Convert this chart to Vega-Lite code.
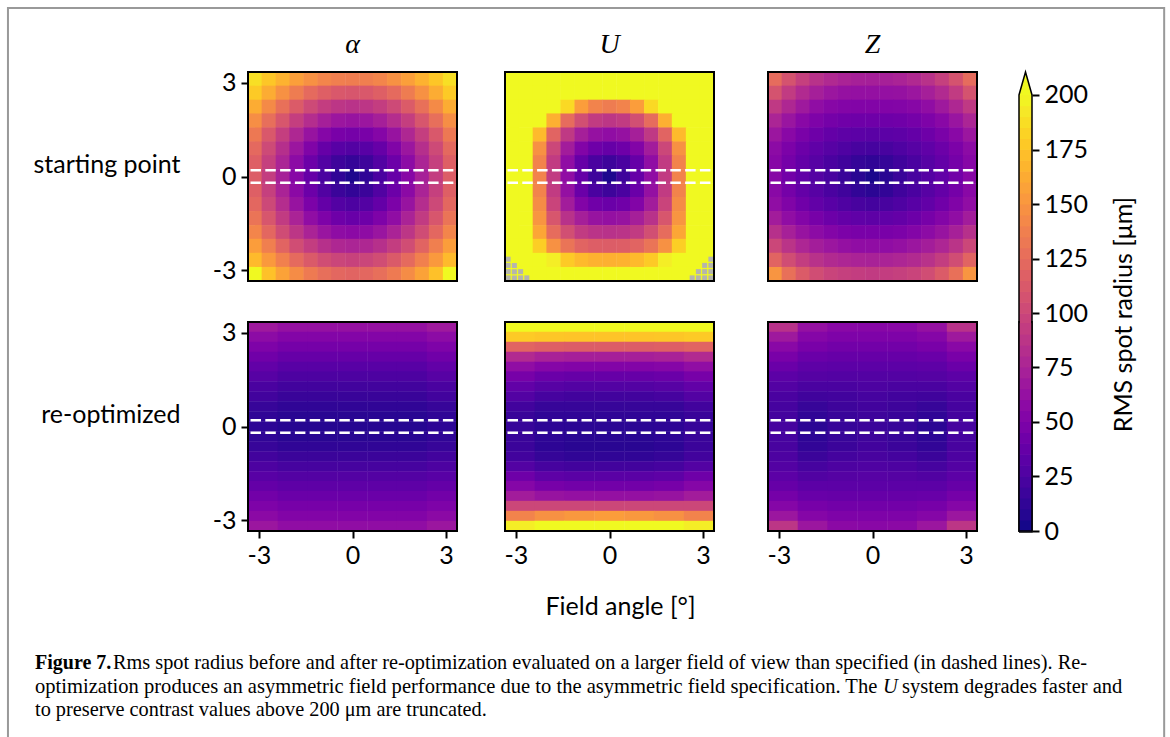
{"$schema":"https://vega.github.io/schema/vega-lite/v6.json","padding":{"left":6,"top":6,"right":0,"bottom":0},"background":"white",
"config":{"view":{"stroke":null},"axis":{"grid":false,"domain":false,"labelFont":"Lato","titleFont":"Lato","labelFontSize":25,"titleFontSize":25,"titleFontWeight":"normal","labelColor":"black","titleColor":"black","tickColor":"black","tickWidth":2,"tickSize":7,"labelPadding":5}},
"datasets":{"dash":[{"x":-3.27,"x2":3.27,"y":0.2},{"x":-3.27,"x2":3.27,"y":-0.2}],"box":[{"x":-3.35,"x2":3.35,"y":-3.35,"y2":3.35}],"sp":[{"t":""}],
"outline":[{"o":1,"x":0,"v":0},{"o":2,"x":0,"v":200},{"o":3,"x":0.5,"v":210.5},{"o":4,"x":1,"v":200},{"o":5,"x":1,"v":0},{"o":6,"x":0,"v":0}],
"n":[{"x":-3.25,"y":-3.25},{"x":-3.25,"y":-3.05},{"x":-3.25,"y":-2.85},{"x":-3.25,"y":-2.65},{"x":-3.05,"y":-3.25},{"x":-3.05,"y":-3.05},{"x":-3.05,"y":-2.85},{"x":-2.85,"y":-3.25},{"x":-2.85,"y":-3.05},{"x":-2.65,"y":-3.25},{"x":3.25,"y":-3.25},{"x":3.25,"y":-3.05},{"x":3.25,"y":-2.85},{"x":3.25,"y":-2.65},{"x":3.05,"y":-3.25},{"x":3.05,"y":-3.05},{"x":3.05,"y":-2.85},{"x":2.85,"y":-3.25},{"x":2.85,"y":-3.05},{"x":2.65,"y":-3.25}],
"a1":[
{"x":-3.13,"y":3.13,"v":188},{"x":-2.68,"y":3.13,"v":176},{"x":-2.23,"y":3.13,"v":166},{"x":-1.79,"y":3.13,"v":156},{"x":-1.34,"y":3.13,"v":148},{"x":-0.89,"y":3.13,"v":141},{"x":-0.45,"y":3.13,"v":137},{"x":0,"y":3.13,"v":136},{"x":0.45,"y":3.13,"v":137},{"x":0.89,"y":3.13,"v":141},{"x":1.34,"y":3.13,"v":148},{"x":1.79,"y":3.13,"v":156},{"x":2.23,"y":3.13,"v":166},{"x":2.68,"y":3.13,"v":176},{"x":3.13,"y":3.13,"v":188},
{"x":-3.13,"y":2.68,"v":178},{"x":-2.68,"y":2.68,"v":163},{"x":-2.23,"y":2.68,"v":148},{"x":-1.79,"y":2.68,"v":135},{"x":-1.34,"y":2.68,"v":124},{"x":-0.89,"y":2.68,"v":117},{"x":-0.45,"y":2.68,"v":112},{"x":0,"y":2.68,"v":110},{"x":0.45,"y":2.68,"v":112},{"x":0.89,"y":2.68,"v":117},{"x":1.34,"y":2.68,"v":124},{"x":1.79,"y":2.68,"v":135},{"x":2.23,"y":2.68,"v":148},{"x":2.68,"y":2.68,"v":163},{"x":3.13,"y":2.68,"v":178},
{"x":-3.13,"y":2.23,"v":163},{"x":-2.68,"y":2.23,"v":144},{"x":-2.23,"y":2.23,"v":128},{"x":-1.79,"y":2.23,"v":114},{"x":-1.34,"y":2.23,"v":102},{"x":-0.89,"y":2.23,"v":93},{"x":-0.45,"y":2.23,"v":88},{"x":0,"y":2.23,"v":86},{"x":0.45,"y":2.23,"v":88},{"x":0.89,"y":2.23,"v":93},{"x":1.34,"y":2.23,"v":102},{"x":1.79,"y":2.23,"v":114},{"x":2.23,"y":2.23,"v":128},{"x":2.68,"y":2.23,"v":144},{"x":3.13,"y":2.23,"v":163},
{"x":-3.13,"y":1.79,"v":146},{"x":-2.68,"y":1.79,"v":127},{"x":-2.23,"y":1.79,"v":110},{"x":-1.79,"y":1.79,"v":94},{"x":-1.34,"y":1.79,"v":82},{"x":-0.89,"y":1.79,"v":72},{"x":-0.45,"y":1.79,"v":66},{"x":0,"y":1.79,"v":64},{"x":0.45,"y":1.79,"v":66},{"x":0.89,"y":1.79,"v":72},{"x":1.34,"y":1.79,"v":82},{"x":1.79,"y":1.79,"v":94},{"x":2.23,"y":1.79,"v":110},{"x":2.68,"y":1.79,"v":127},{"x":3.13,"y":1.79,"v":146},
{"x":-3.13,"y":1.34,"v":133},{"x":-2.68,"y":1.34,"v":112},{"x":-2.23,"y":1.34,"v":94},{"x":-1.79,"y":1.34,"v":78},{"x":-1.34,"y":1.34,"v":64},{"x":-0.89,"y":1.34,"v":54},{"x":-0.45,"y":1.34,"v":47},{"x":0,"y":1.34,"v":45},{"x":0.45,"y":1.34,"v":47},{"x":0.89,"y":1.34,"v":54},{"x":1.34,"y":1.34,"v":64},{"x":1.79,"y":1.34,"v":78},{"x":2.23,"y":1.34,"v":94},{"x":2.68,"y":1.34,"v":112},{"x":3.13,"y":1.34,"v":133},
{"x":-3.13,"y":0.89,"v":123},{"x":-2.68,"y":0.89,"v":102},{"x":-2.23,"y":0.89,"v":83},{"x":-1.79,"y":0.89,"v":66},{"x":-1.34,"y":0.89,"v":51},{"x":-0.89,"y":0.89,"v":38},{"x":-0.45,"y":0.89,"v":31},{"x":0,"y":0.89,"v":28},{"x":0.45,"y":0.89,"v":31},{"x":0.89,"y":0.89,"v":38},{"x":1.34,"y":0.89,"v":51},{"x":1.79,"y":0.89,"v":66},{"x":2.23,"y":0.89,"v":83},{"x":2.68,"y":0.89,"v":102},{"x":3.13,"y":0.89,"v":123},
{"x":-3.13,"y":0.45,"v":117},{"x":-2.68,"y":0.45,"v":95},{"x":-2.23,"y":0.45,"v":76},{"x":-1.79,"y":0.45,"v":58},{"x":-1.34,"y":0.45,"v":41},{"x":-0.89,"y":0.45,"v":28},{"x":-0.45,"y":0.45,"v":18},{"x":0,"y":0.45,"v":14},{"x":0.45,"y":0.45,"v":18},{"x":0.89,"y":0.45,"v":28},{"x":1.34,"y":0.45,"v":41},{"x":1.79,"y":0.45,"v":58},{"x":2.23,"y":0.45,"v":76},{"x":2.68,"y":0.45,"v":95},{"x":3.13,"y":0.45,"v":117},
{"x":-3.13,"y":0,"v":115},{"x":-2.68,"y":0,"v":93},{"x":-2.23,"y":0,"v":73},{"x":-1.79,"y":0,"v":55},{"x":-1.34,"y":0,"v":38},{"x":-0.89,"y":0,"v":24},{"x":-0.45,"y":0,"v":12},{"x":0,"y":0,"v":5},{"x":0.45,"y":0,"v":12},{"x":0.89,"y":0,"v":24},{"x":1.34,"y":0,"v":38},{"x":1.79,"y":0,"v":55},{"x":2.23,"y":0,"v":73},{"x":2.68,"y":0,"v":93},{"x":3.13,"y":0,"v":115},
{"x":-3.13,"y":-0.45,"v":117},{"x":-2.68,"y":-0.45,"v":95},{"x":-2.23,"y":-0.45,"v":75},{"x":-1.79,"y":-0.45,"v":57},{"x":-1.34,"y":-0.45,"v":41},{"x":-0.89,"y":-0.45,"v":27},{"x":-0.45,"y":-0.45,"v":17},{"x":0,"y":-0.45,"v":13},{"x":0.45,"y":-0.45,"v":17},{"x":0.89,"y":-0.45,"v":27},{"x":1.34,"y":-0.45,"v":41},{"x":1.79,"y":-0.45,"v":57},{"x":2.23,"y":-0.45,"v":75},{"x":2.68,"y":-0.45,"v":95},{"x":3.13,"y":-0.45,"v":117},
{"x":-3.13,"y":-0.89,"v":122},{"x":-2.68,"y":-0.89,"v":101},{"x":-2.23,"y":-0.89,"v":82},{"x":-1.79,"y":-0.89,"v":64},{"x":-1.34,"y":-0.89,"v":49},{"x":-0.89,"y":-0.89,"v":37},{"x":-0.45,"y":-0.89,"v":28},{"x":0,"y":-0.89,"v":25},{"x":0.45,"y":-0.89,"v":28},{"x":0.89,"y":-0.89,"v":37},{"x":1.34,"y":-0.89,"v":49},{"x":1.79,"y":-0.89,"v":64},{"x":2.23,"y":-0.89,"v":82},{"x":2.68,"y":-0.89,"v":101},{"x":3.13,"y":-0.89,"v":122},
{"x":-3.13,"y":-1.34,"v":130},{"x":-2.68,"y":-1.34,"v":110},{"x":-2.23,"y":-1.34,"v":92},{"x":-1.79,"y":-1.34,"v":75},{"x":-1.34,"y":-1.34,"v":60},{"x":-0.89,"y":-1.34,"v":50},{"x":-0.45,"y":-1.34,"v":42},{"x":0,"y":-1.34,"v":39},{"x":0.45,"y":-1.34,"v":42},{"x":0.89,"y":-1.34,"v":50},{"x":1.34,"y":-1.34,"v":60},{"x":1.79,"y":-1.34,"v":75},{"x":2.23,"y":-1.34,"v":92},{"x":2.68,"y":-1.34,"v":110},{"x":3.13,"y":-1.34,"v":130},
{"x":-3.13,"y":-1.79,"v":141},{"x":-2.68,"y":-1.79,"v":122},{"x":-2.23,"y":-1.79,"v":103},{"x":-1.79,"y":-1.79,"v":88},{"x":-1.34,"y":-1.79,"v":75},{"x":-0.89,"y":-1.79,"v":65},{"x":-0.45,"y":-1.79,"v":59},{"x":0,"y":-1.79,"v":57},{"x":0.45,"y":-1.79,"v":59},{"x":0.89,"y":-1.79,"v":65},{"x":1.34,"y":-1.79,"v":75},{"x":1.79,"y":-1.79,"v":88},{"x":2.23,"y":-1.79,"v":103},{"x":2.68,"y":-1.79,"v":122},{"x":3.13,"y":-1.79,"v":141},
{"x":-3.13,"y":-2.23,"v":155},{"x":-2.68,"y":-2.23,"v":137},{"x":-2.23,"y":-2.23,"v":120},{"x":-1.79,"y":-2.23,"v":104},{"x":-1.34,"y":-2.23,"v":93},{"x":-0.89,"y":-2.23,"v":84},{"x":-0.45,"y":-2.23,"v":78},{"x":0,"y":-2.23,"v":76},{"x":0.45,"y":-2.23,"v":78},{"x":0.89,"y":-2.23,"v":84},{"x":1.34,"y":-2.23,"v":93},{"x":1.79,"y":-2.23,"v":104},{"x":2.23,"y":-2.23,"v":120},{"x":2.68,"y":-2.23,"v":137},{"x":3.13,"y":-2.23,"v":155},
{"x":-3.13,"y":-2.68,"v":170},{"x":-2.68,"y":-2.68,"v":153},{"x":-2.23,"y":-2.68,"v":138},{"x":-1.79,"y":-2.68,"v":124},{"x":-1.34,"y":-2.68,"v":113},{"x":-0.89,"y":-2.68,"v":104},{"x":-0.45,"y":-2.68,"v":99},{"x":0,"y":-2.68,"v":97},{"x":0.45,"y":-2.68,"v":99},{"x":0.89,"y":-2.68,"v":104},{"x":1.34,"y":-2.68,"v":113},{"x":1.79,"y":-2.68,"v":124},{"x":2.23,"y":-2.68,"v":138},{"x":2.68,"y":-2.68,"v":153},{"x":3.13,"y":-2.68,"v":170},
{"x":-3.13,"y":-3.13,"v":200},{"x":-2.68,"y":-3.13,"v":174},{"x":-2.23,"y":-3.13,"v":158},{"x":-1.79,"y":-3.13,"v":145},{"x":-1.34,"y":-3.13,"v":134},{"x":-0.89,"y":-3.13,"v":127},{"x":-0.45,"y":-3.13,"v":122},{"x":0,"y":-3.13,"v":120},{"x":0.45,"y":-3.13,"v":122},{"x":0.89,"y":-3.13,"v":127},{"x":1.34,"y":-3.13,"v":134},{"x":1.79,"y":-3.13,"v":145},{"x":2.23,"y":-3.13,"v":158},{"x":2.68,"y":-3.13,"v":174},{"x":3.13,"y":-3.13,"v":200}],
"z1":[
{"x":-3.13,"y":3.13,"v":125},{"x":-2.68,"y":3.13,"v":108},{"x":-2.23,"y":3.13,"v":95},{"x":-1.79,"y":3.13,"v":85},{"x":-1.34,"y":3.13,"v":79},{"x":-0.89,"y":3.13,"v":75},{"x":-0.45,"y":3.13,"v":73},{"x":0,"y":3.13,"v":72},{"x":0.45,"y":3.13,"v":73},{"x":0.89,"y":3.13,"v":75},{"x":1.34,"y":3.13,"v":79},{"x":1.79,"y":3.13,"v":85},{"x":2.23,"y":3.13,"v":95},{"x":2.68,"y":3.13,"v":108},{"x":3.13,"y":3.13,"v":125},
{"x":-3.13,"y":2.68,"v":108},{"x":-2.68,"y":2.68,"v":92},{"x":-2.23,"y":2.68,"v":80},{"x":-1.79,"y":2.68,"v":72},{"x":-1.34,"y":2.68,"v":66},{"x":-0.89,"y":2.68,"v":63},{"x":-0.45,"y":2.68,"v":62},{"x":0,"y":2.68,"v":62},{"x":0.45,"y":2.68,"v":62},{"x":0.89,"y":2.68,"v":63},{"x":1.34,"y":2.68,"v":66},{"x":1.79,"y":2.68,"v":72},{"x":2.23,"y":2.68,"v":80},{"x":2.68,"y":2.68,"v":92},{"x":3.13,"y":2.68,"v":108},
{"x":-3.13,"y":2.23,"v":90},{"x":-2.68,"y":2.23,"v":78},{"x":-2.23,"y":2.23,"v":68},{"x":-1.79,"y":2.23,"v":60},{"x":-1.34,"y":2.23,"v":55},{"x":-0.89,"y":2.23,"v":53},{"x":-0.45,"y":2.23,"v":52},{"x":0,"y":2.23,"v":52},{"x":0.45,"y":2.23,"v":52},{"x":0.89,"y":2.23,"v":53},{"x":1.34,"y":2.23,"v":55},{"x":1.79,"y":2.23,"v":60},{"x":2.23,"y":2.23,"v":68},{"x":2.68,"y":2.23,"v":78},{"x":3.13,"y":2.23,"v":90},
{"x":-3.13,"y":1.79,"v":76},{"x":-2.68,"y":1.79,"v":65},{"x":-2.23,"y":1.79,"v":56},{"x":-1.79,"y":1.79,"v":50},{"x":-1.34,"y":1.79,"v":45},{"x":-0.89,"y":1.79,"v":43},{"x":-0.45,"y":1.79,"v":42},{"x":0,"y":1.79,"v":42},{"x":0.45,"y":1.79,"v":42},{"x":0.89,"y":1.79,"v":43},{"x":1.34,"y":1.79,"v":45},{"x":1.79,"y":1.79,"v":50},{"x":2.23,"y":1.79,"v":56},{"x":2.68,"y":1.79,"v":65},{"x":3.13,"y":1.79,"v":76},
{"x":-3.13,"y":1.34,"v":66},{"x":-2.68,"y":1.34,"v":56},{"x":-2.23,"y":1.34,"v":48},{"x":-1.79,"y":1.34,"v":42},{"x":-1.34,"y":1.34,"v":37},{"x":-0.89,"y":1.34,"v":34},{"x":-0.45,"y":1.34,"v":33},{"x":0,"y":1.34,"v":32},{"x":0.45,"y":1.34,"v":33},{"x":0.89,"y":1.34,"v":34},{"x":1.34,"y":1.34,"v":37},{"x":1.79,"y":1.34,"v":42},{"x":2.23,"y":1.34,"v":48},{"x":2.68,"y":1.34,"v":56},{"x":3.13,"y":1.34,"v":66},
{"x":-3.13,"y":0.89,"v":58},{"x":-2.68,"y":0.89,"v":49},{"x":-2.23,"y":0.89,"v":41},{"x":-1.79,"y":0.89,"v":35},{"x":-1.34,"y":0.89,"v":30},{"x":-0.89,"y":0.89,"v":26},{"x":-0.45,"y":0.89,"v":23},{"x":0,"y":0.89,"v":22},{"x":0.45,"y":0.89,"v":23},{"x":0.89,"y":0.89,"v":26},{"x":1.34,"y":0.89,"v":30},{"x":1.79,"y":0.89,"v":35},{"x":2.23,"y":0.89,"v":41},{"x":2.68,"y":0.89,"v":49},{"x":3.13,"y":0.89,"v":58},
{"x":-3.13,"y":0.45,"v":55},{"x":-2.68,"y":0.45,"v":45},{"x":-2.23,"y":0.45,"v":37},{"x":-1.79,"y":0.45,"v":30},{"x":-1.34,"y":0.45,"v":24},{"x":-0.89,"y":0.45,"v":19},{"x":-0.45,"y":0.45,"v":14},{"x":0,"y":0.45,"v":12},{"x":0.45,"y":0.45,"v":14},{"x":0.89,"y":0.45,"v":19},{"x":1.34,"y":0.45,"v":24},{"x":1.79,"y":0.45,"v":30},{"x":2.23,"y":0.45,"v":37},{"x":2.68,"y":0.45,"v":45},{"x":3.13,"y":0.45,"v":55},
{"x":-3.13,"y":0,"v":55},{"x":-2.68,"y":0,"v":44},{"x":-2.23,"y":0,"v":36},{"x":-1.79,"y":0,"v":29},{"x":-1.34,"y":0,"v":23},{"x":-0.89,"y":0,"v":16},{"x":-0.45,"y":0,"v":9},{"x":0,"y":0,"v":4},{"x":0.45,"y":0,"v":9},{"x":0.89,"y":0,"v":16},{"x":1.34,"y":0,"v":23},{"x":1.79,"y":0,"v":29},{"x":2.23,"y":0,"v":36},{"x":2.68,"y":0,"v":44},{"x":3.13,"y":0,"v":55},
{"x":-3.13,"y":-0.45,"v":56},{"x":-2.68,"y":-0.45,"v":45},{"x":-2.23,"y":-0.45,"v":37},{"x":-1.79,"y":-0.45,"v":30},{"x":-1.34,"y":-0.45,"v":24},{"x":-0.89,"y":-0.45,"v":19},{"x":-0.45,"y":-0.45,"v":13},{"x":0,"y":-0.45,"v":10},{"x":0.45,"y":-0.45,"v":13},{"x":0.89,"y":-0.45,"v":19},{"x":1.34,"y":-0.45,"v":24},{"x":1.79,"y":-0.45,"v":30},{"x":2.23,"y":-0.45,"v":37},{"x":2.68,"y":-0.45,"v":45},{"x":3.13,"y":-0.45,"v":56},
{"x":-3.13,"y":-0.89,"v":60},{"x":-2.68,"y":-0.89,"v":51},{"x":-2.23,"y":-0.89,"v":43},{"x":-1.79,"y":-0.89,"v":36},{"x":-1.34,"y":-0.89,"v":31},{"x":-0.89,"y":-0.89,"v":26},{"x":-0.45,"y":-0.89,"v":23},{"x":0,"y":-0.89,"v":21},{"x":0.45,"y":-0.89,"v":23},{"x":0.89,"y":-0.89,"v":26},{"x":1.34,"y":-0.89,"v":31},{"x":1.79,"y":-0.89,"v":36},{"x":2.23,"y":-0.89,"v":43},{"x":2.68,"y":-0.89,"v":51},{"x":3.13,"y":-0.89,"v":60},
{"x":-3.13,"y":-1.34,"v":70},{"x":-2.68,"y":-1.34,"v":60},{"x":-2.23,"y":-1.34,"v":53},{"x":-1.79,"y":-1.34,"v":46},{"x":-1.34,"y":-1.34,"v":41},{"x":-0.89,"y":-1.34,"v":37},{"x":-0.45,"y":-1.34,"v":35},{"x":0,"y":-1.34,"v":34},{"x":0.45,"y":-1.34,"v":35},{"x":0.89,"y":-1.34,"v":37},{"x":1.34,"y":-1.34,"v":41},{"x":1.79,"y":-1.34,"v":46},{"x":2.23,"y":-1.34,"v":53},{"x":2.68,"y":-1.34,"v":60},{"x":3.13,"y":-1.34,"v":70},
{"x":-3.13,"y":-1.79,"v":84},{"x":-2.68,"y":-1.79,"v":73},{"x":-2.23,"y":-1.79,"v":64},{"x":-1.79,"y":-1.79,"v":58},{"x":-1.34,"y":-1.79,"v":53},{"x":-0.89,"y":-1.79,"v":49},{"x":-0.45,"y":-1.79,"v":47},{"x":0,"y":-1.79,"v":47},{"x":0.45,"y":-1.79,"v":47},{"x":0.89,"y":-1.79,"v":49},{"x":1.34,"y":-1.79,"v":53},{"x":1.79,"y":-1.79,"v":58},{"x":2.23,"y":-1.79,"v":64},{"x":2.68,"y":-1.79,"v":73},{"x":3.13,"y":-1.79,"v":84},
{"x":-3.13,"y":-2.23,"v":100},{"x":-2.68,"y":-2.23,"v":87},{"x":-2.23,"y":-2.23,"v":77},{"x":-1.79,"y":-2.23,"v":71},{"x":-1.34,"y":-2.23,"v":66},{"x":-0.89,"y":-2.23,"v":62},{"x":-0.45,"y":-2.23,"v":60},{"x":0,"y":-2.23,"v":60},{"x":0.45,"y":-2.23,"v":60},{"x":0.89,"y":-2.23,"v":62},{"x":1.34,"y":-2.23,"v":66},{"x":1.79,"y":-2.23,"v":71},{"x":2.23,"y":-2.23,"v":77},{"x":2.68,"y":-2.23,"v":87},{"x":3.13,"y":-2.23,"v":100},
{"x":-3.13,"y":-2.68,"v":120},{"x":-2.68,"y":-2.68,"v":104},{"x":-2.23,"y":-2.68,"v":93},{"x":-1.79,"y":-2.68,"v":85},{"x":-1.34,"y":-2.68,"v":80},{"x":-0.89,"y":-2.68,"v":77},{"x":-0.45,"y":-2.68,"v":75},{"x":0,"y":-2.68,"v":74},{"x":0.45,"y":-2.68,"v":75},{"x":0.89,"y":-2.68,"v":77},{"x":1.34,"y":-2.68,"v":80},{"x":1.79,"y":-2.68,"v":85},{"x":2.23,"y":-2.68,"v":93},{"x":2.68,"y":-2.68,"v":104},{"x":3.13,"y":-2.68,"v":120},
{"x":-3.13,"y":-3.13,"v":150},{"x":-2.68,"y":-3.13,"v":128},{"x":-2.23,"y":-3.13,"v":114},{"x":-1.79,"y":-3.13,"v":104},{"x":-1.34,"y":-3.13,"v":98},{"x":-0.89,"y":-3.13,"v":95},{"x":-0.45,"y":-3.13,"v":93},{"x":0,"y":-3.13,"v":92},{"x":0.45,"y":-3.13,"v":93},{"x":0.89,"y":-3.13,"v":95},{"x":1.34,"y":-3.13,"v":98},{"x":1.79,"y":-3.13,"v":104},{"x":2.23,"y":-3.13,"v":114},{"x":2.68,"y":-3.13,"v":128},{"x":3.13,"y":-3.13,"v":150}],
"u1":[
{"x":-3.13,"y":3.13,"v":250},{"x":-2.68,"y":3.13,"v":250},{"x":-2.23,"y":3.13,"v":250},{"x":-1.79,"y":3.13,"v":250},{"x":-1.34,"y":3.13,"v":250},{"x":-0.89,"y":3.13,"v":250},{"x":-0.45,"y":3.13,"v":250},{"x":0,"y":3.13,"v":250},{"x":0.45,"y":3.13,"v":250},{"x":0.89,"y":3.13,"v":250},{"x":1.34,"y":3.13,"v":250},{"x":1.79,"y":3.13,"v":250},{"x":2.23,"y":3.13,"v":250},{"x":2.68,"y":3.13,"v":250},{"x":3.13,"y":3.13,"v":250},
{"x":-3.13,"y":2.68,"v":250},{"x":-2.68,"y":2.68,"v":250},{"x":-2.23,"y":2.68,"v":250},{"x":-1.79,"y":2.68,"v":250},{"x":-1.34,"y":2.68,"v":230},{"x":-0.89,"y":2.68,"v":215},{"x":-0.45,"y":2.68,"v":208},{"x":0,"y":2.68,"v":205},{"x":0.45,"y":2.68,"v":208},{"x":0.89,"y":2.68,"v":215},{"x":1.34,"y":2.68,"v":230},{"x":1.79,"y":2.68,"v":250},{"x":2.23,"y":2.68,"v":250},{"x":2.68,"y":2.68,"v":250},{"x":3.13,"y":2.68,"v":250},
{"x":-3.13,"y":2.23,"v":250},{"x":-2.68,"y":2.23,"v":250},{"x":-2.23,"y":2.23,"v":250},{"x":-1.79,"y":2.23,"v":230},{"x":-1.34,"y":2.23,"v":185},{"x":-0.89,"y":2.23,"v":155},{"x":-0.45,"y":2.23,"v":140},{"x":0,"y":2.23,"v":135},{"x":0.45,"y":2.23,"v":140},{"x":0.89,"y":2.23,"v":155},{"x":1.34,"y":2.23,"v":185},{"x":1.79,"y":2.23,"v":230},{"x":2.23,"y":2.23,"v":250},{"x":2.68,"y":2.23,"v":250},{"x":3.13,"y":2.23,"v":250},
{"x":-3.13,"y":1.79,"v":250},{"x":-2.68,"y":1.79,"v":250},{"x":-2.23,"y":1.79,"v":225},{"x":-1.79,"y":1.79,"v":165},{"x":-1.34,"y":1.79,"v":125},{"x":-0.89,"y":1.79,"v":105},{"x":-0.45,"y":1.79,"v":92},{"x":0,"y":1.79,"v":88},{"x":0.45,"y":1.79,"v":92},{"x":0.89,"y":1.79,"v":105},{"x":1.34,"y":1.79,"v":125},{"x":1.79,"y":1.79,"v":165},{"x":2.23,"y":1.79,"v":225},{"x":2.68,"y":1.79,"v":250},{"x":3.13,"y":1.79,"v":250},
{"x":-3.13,"y":1.34,"v":250},{"x":-2.68,"y":1.34,"v":240},{"x":-2.23,"y":1.34,"v":170},{"x":-1.79,"y":1.34,"v":120},{"x":-1.34,"y":1.34,"v":90},{"x":-0.89,"y":1.34,"v":72},{"x":-0.45,"y":1.34,"v":63},{"x":0,"y":1.34,"v":60},{"x":0.45,"y":1.34,"v":63},{"x":0.89,"y":1.34,"v":72},{"x":1.34,"y":1.34,"v":90},{"x":1.79,"y":1.34,"v":120},{"x":2.23,"y":1.34,"v":170},{"x":2.68,"y":1.34,"v":240},{"x":3.13,"y":1.34,"v":250},
{"x":-3.13,"y":0.89,"v":250},{"x":-2.68,"y":0.89,"v":215},{"x":-2.23,"y":0.89,"v":148},{"x":-1.79,"y":0.89,"v":100},{"x":-1.34,"y":0.89,"v":70},{"x":-0.89,"y":0.89,"v":52},{"x":-0.45,"y":0.89,"v":42},{"x":0,"y":0.89,"v":38},{"x":0.45,"y":0.89,"v":42},{"x":0.89,"y":0.89,"v":52},{"x":1.34,"y":0.89,"v":70},{"x":1.79,"y":0.89,"v":100},{"x":2.23,"y":0.89,"v":148},{"x":2.68,"y":0.89,"v":215},{"x":3.13,"y":0.89,"v":250},
{"x":-3.13,"y":0.45,"v":250},{"x":-2.68,"y":0.45,"v":208},{"x":-2.23,"y":0.45,"v":140},{"x":-1.79,"y":0.45,"v":92},{"x":-1.34,"y":0.45,"v":60},{"x":-0.89,"y":0.45,"v":38},{"x":-0.45,"y":0.45,"v":24},{"x":0,"y":0.45,"v":18},{"x":0.45,"y":0.45,"v":24},{"x":0.89,"y":0.45,"v":38},{"x":1.34,"y":0.45,"v":60},{"x":1.79,"y":0.45,"v":92},{"x":2.23,"y":0.45,"v":140},{"x":2.68,"y":0.45,"v":208},{"x":3.13,"y":0.45,"v":250},
{"x":-3.13,"y":0,"v":250},{"x":-2.68,"y":0,"v":205},{"x":-2.23,"y":0,"v":140},{"x":-1.79,"y":0,"v":92},{"x":-1.34,"y":0,"v":60},{"x":-0.89,"y":0,"v":38},{"x":-0.45,"y":0,"v":18},{"x":0,"y":0,"v":5},{"x":0.45,"y":0,"v":18},{"x":0.89,"y":0,"v":38},{"x":1.34,"y":0,"v":60},{"x":1.79,"y":0,"v":92},{"x":2.23,"y":0,"v":140},{"x":2.68,"y":0,"v":205},{"x":3.13,"y":0,"v":250},
{"x":-3.13,"y":-0.45,"v":250},{"x":-2.68,"y":-0.45,"v":205},{"x":-2.23,"y":-0.45,"v":140},{"x":-1.79,"y":-0.45,"v":92},{"x":-1.34,"y":-0.45,"v":62},{"x":-0.89,"y":-0.45,"v":40},{"x":-0.45,"y":-0.45,"v":24},{"x":0,"y":-0.45,"v":18},{"x":0.45,"y":-0.45,"v":24},{"x":0.89,"y":-0.45,"v":40},{"x":1.34,"y":-0.45,"v":62},{"x":1.79,"y":-0.45,"v":92},{"x":2.23,"y":-0.45,"v":140},{"x":2.68,"y":-0.45,"v":205},{"x":3.13,"y":-0.45,"v":250},
{"x":-3.13,"y":-0.89,"v":250},{"x":-2.68,"y":-0.89,"v":208},{"x":-2.23,"y":-0.89,"v":145},{"x":-1.79,"y":-0.89,"v":98},{"x":-1.34,"y":-0.89,"v":70},{"x":-0.89,"y":-0.89,"v":52},{"x":-0.45,"y":-0.89,"v":43},{"x":0,"y":-0.89,"v":40},{"x":0.45,"y":-0.89,"v":43},{"x":0.89,"y":-0.89,"v":52},{"x":1.34,"y":-0.89,"v":70},{"x":1.79,"y":-0.89,"v":98},{"x":2.23,"y":-0.89,"v":145},{"x":2.68,"y":-0.89,"v":208},{"x":3.13,"y":-0.89,"v":250},
{"x":-3.13,"y":-1.34,"v":250},{"x":-2.68,"y":-1.34,"v":212},{"x":-2.23,"y":-1.34,"v":150},{"x":-1.79,"y":-1.34,"v":110},{"x":-1.34,"y":-1.34,"v":85},{"x":-0.89,"y":-1.34,"v":72},{"x":-0.45,"y":-1.34,"v":64},{"x":0,"y":-1.34,"v":62},{"x":0.45,"y":-1.34,"v":64},{"x":0.89,"y":-1.34,"v":72},{"x":1.34,"y":-1.34,"v":85},{"x":1.79,"y":-1.34,"v":110},{"x":2.23,"y":-1.34,"v":150},{"x":2.68,"y":-1.34,"v":212},{"x":3.13,"y":-1.34,"v":250},
{"x":-3.13,"y":-1.79,"v":250},{"x":-2.68,"y":-1.79,"v":218},{"x":-2.23,"y":-1.79,"v":160},{"x":-1.79,"y":-1.79,"v":125},{"x":-1.34,"y":-1.79,"v":105},{"x":-0.89,"y":-1.79,"v":92},{"x":-0.45,"y":-1.79,"v":87},{"x":0,"y":-1.79,"v":85},{"x":0.45,"y":-1.79,"v":87},{"x":0.89,"y":-1.79,"v":92},{"x":1.34,"y":-1.79,"v":105},{"x":1.79,"y":-1.79,"v":125},{"x":2.23,"y":-1.79,"v":160},{"x":2.68,"y":-1.79,"v":218},{"x":3.13,"y":-1.79,"v":250},
{"x":-3.13,"y":-2.23,"v":250},{"x":-2.68,"y":-2.23,"v":235},{"x":-2.23,"y":-2.23,"v":180},{"x":-1.79,"y":-2.23,"v":148},{"x":-1.34,"y":-2.23,"v":130},{"x":-0.89,"y":-2.23,"v":120},{"x":-0.45,"y":-2.23,"v":116},{"x":0,"y":-2.23,"v":115},{"x":0.45,"y":-2.23,"v":116},{"x":0.89,"y":-2.23,"v":120},{"x":1.34,"y":-2.23,"v":130},{"x":1.79,"y":-2.23,"v":148},{"x":2.23,"y":-2.23,"v":180},{"x":2.68,"y":-2.23,"v":235},{"x":3.13,"y":-2.23,"v":250},
{"x":-3.13,"y":-2.68,"v":250},{"x":-2.68,"y":-2.68,"v":250},{"x":-2.23,"y":-2.68,"v":225},{"x":-1.79,"y":-2.68,"v":195},{"x":-1.34,"y":-2.68,"v":178},{"x":-0.89,"y":-2.68,"v":170},{"x":-0.45,"y":-2.68,"v":166},{"x":0,"y":-2.68,"v":165},{"x":0.45,"y":-2.68,"v":166},{"x":0.89,"y":-2.68,"v":170},{"x":1.34,"y":-2.68,"v":178},{"x":1.79,"y":-2.68,"v":195},{"x":2.23,"y":-2.68,"v":225},{"x":2.68,"y":-2.68,"v":250},{"x":3.13,"y":-2.68,"v":250},
{"x":-3.13,"y":-3.13,"v":250},{"x":-2.68,"y":-3.13,"v":250},{"x":-2.23,"y":-3.13,"v":250},{"x":-1.79,"y":-3.13,"v":250},{"x":-1.34,"y":-3.13,"v":250},{"x":-0.89,"y":-3.13,"v":250},{"x":-0.45,"y":-3.13,"v":250},{"x":0,"y":-3.13,"v":240},{"x":0.45,"y":-3.13,"v":250},{"x":0.89,"y":-3.13,"v":250},{"x":1.34,"y":-3.13,"v":250},{"x":1.79,"y":-3.13,"v":250},{"x":2.23,"y":-3.13,"v":250},{"x":2.68,"y":-3.13,"v":250},{"x":3.13,"y":-3.13,"v":250}],
"a2":[
{"x":-2.87,"y":3.19,"v":68},{"x":-1.91,"y":3.19,"v":62},{"x":-0.96,"y":3.19,"v":62},{"x":0,"y":3.19,"v":62},{"x":0.96,"y":3.19,"v":62},{"x":1.91,"y":3.19,"v":62},{"x":2.87,"y":3.19,"v":68},
{"x":-2.87,"y":2.87,"v":58},{"x":-1.91,"y":2.87,"v":53},{"x":-0.96,"y":2.87,"v":53},{"x":0,"y":2.87,"v":53},{"x":0.96,"y":2.87,"v":53},{"x":1.91,"y":2.87,"v":53},{"x":2.87,"y":2.87,"v":58},
{"x":-2.87,"y":2.55,"v":50},{"x":-1.91,"y":2.55,"v":45},{"x":-0.96,"y":2.55,"v":45},{"x":0,"y":2.55,"v":45},{"x":0.96,"y":2.55,"v":45},{"x":1.91,"y":2.55,"v":45},{"x":2.87,"y":2.55,"v":50},
{"x":-2.87,"y":2.23,"v":43},{"x":-1.91,"y":2.23,"v":38},{"x":-0.96,"y":2.23,"v":38},{"x":0,"y":2.23,"v":38},{"x":0.96,"y":2.23,"v":38},{"x":1.91,"y":2.23,"v":38},{"x":2.87,"y":2.23,"v":43},
{"x":-2.87,"y":1.91,"v":36},{"x":-1.91,"y":1.91,"v":31},{"x":-0.96,"y":1.91,"v":31},{"x":0,"y":1.91,"v":31},{"x":0.96,"y":1.91,"v":31},{"x":1.91,"y":1.91,"v":31},{"x":2.87,"y":1.91,"v":36},
{"x":-2.87,"y":1.6,"v":30},{"x":-1.91,"y":1.6,"v":25},{"x":-0.96,"y":1.6,"v":25},{"x":0,"y":1.6,"v":25},{"x":0.96,"y":1.6,"v":25},{"x":1.91,"y":1.6,"v":25},{"x":2.87,"y":1.6,"v":30},
{"x":-2.87,"y":1.28,"v":24},{"x":-1.91,"y":1.28,"v":20},{"x":-0.96,"y":1.28,"v":20},{"x":0,"y":1.28,"v":20},{"x":0.96,"y":1.28,"v":20},{"x":1.91,"y":1.28,"v":20},{"x":2.87,"y":1.28,"v":24},
{"x":-2.87,"y":0.96,"v":20},{"x":-1.91,"y":0.96,"v":16},{"x":-0.96,"y":0.96,"v":16},{"x":0,"y":0.96,"v":16},{"x":0.96,"y":0.96,"v":16},{"x":1.91,"y":0.96,"v":16},{"x":2.87,"y":0.96,"v":20},
{"x":-2.87,"y":0.64,"v":15},{"x":-1.91,"y":0.64,"v":12},{"x":-0.96,"y":0.64,"v":12},{"x":0,"y":0.64,"v":12},{"x":0.96,"y":0.64,"v":12},{"x":1.91,"y":0.64,"v":12},{"x":2.87,"y":0.64,"v":15},
{"x":-2.87,"y":0.32,"v":12},{"x":-1.91,"y":0.32,"v":9},{"x":-0.96,"y":0.32,"v":9},{"x":0,"y":0.32,"v":9},{"x":0.96,"y":0.32,"v":9},{"x":1.91,"y":0.32,"v":9},{"x":2.87,"y":0.32,"v":12},
{"x":-2.87,"y":0,"v":11},{"x":-1.91,"y":0,"v":8},{"x":-0.96,"y":0,"v":8},{"x":0,"y":0,"v":8},{"x":0.96,"y":0,"v":8},{"x":1.91,"y":0,"v":8},{"x":2.87,"y":0,"v":11},
{"x":-2.87,"y":-0.32,"v":12},{"x":-1.91,"y":-0.32,"v":9},{"x":-0.96,"y":-0.32,"v":9},{"x":0,"y":-0.32,"v":9},{"x":0.96,"y":-0.32,"v":9},{"x":1.91,"y":-0.32,"v":9},{"x":2.87,"y":-0.32,"v":12},
{"x":-2.87,"y":-0.64,"v":15},{"x":-1.91,"y":-0.64,"v":12},{"x":-0.96,"y":-0.64,"v":12},{"x":0,"y":-0.64,"v":12},{"x":0.96,"y":-0.64,"v":12},{"x":1.91,"y":-0.64,"v":12},{"x":2.87,"y":-0.64,"v":15},
{"x":-2.87,"y":-0.96,"v":20},{"x":-1.91,"y":-0.96,"v":17},{"x":-0.96,"y":-0.96,"v":17},{"x":0,"y":-0.96,"v":17},{"x":0.96,"y":-0.96,"v":17},{"x":1.91,"y":-0.96,"v":17},{"x":2.87,"y":-0.96,"v":20},
{"x":-2.87,"y":-1.28,"v":25},{"x":-1.91,"y":-1.28,"v":22},{"x":-0.96,"y":-1.28,"v":22},{"x":0,"y":-1.28,"v":22},{"x":0.96,"y":-1.28,"v":22},{"x":1.91,"y":-1.28,"v":22},{"x":2.87,"y":-1.28,"v":25},
{"x":-2.87,"y":-1.6,"v":31},{"x":-1.91,"y":-1.6,"v":28},{"x":-0.96,"y":-1.6,"v":28},{"x":0,"y":-1.6,"v":28},{"x":0.96,"y":-1.6,"v":28},{"x":1.91,"y":-1.6,"v":28},{"x":2.87,"y":-1.6,"v":31},
{"x":-2.87,"y":-1.91,"v":37},{"x":-1.91,"y":-1.91,"v":34},{"x":-0.96,"y":-1.91,"v":34},{"x":0,"y":-1.91,"v":34},{"x":0.96,"y":-1.91,"v":34},{"x":1.91,"y":-1.91,"v":34},{"x":2.87,"y":-1.91,"v":37},
{"x":-2.87,"y":-2.23,"v":44},{"x":-1.91,"y":-2.23,"v":40},{"x":-0.96,"y":-2.23,"v":40},{"x":0,"y":-2.23,"v":40},{"x":0.96,"y":-2.23,"v":40},{"x":1.91,"y":-2.23,"v":40},{"x":2.87,"y":-2.23,"v":44},
{"x":-2.87,"y":-2.55,"v":50},{"x":-1.91,"y":-2.55,"v":46},{"x":-0.96,"y":-2.55,"v":46},{"x":0,"y":-2.55,"v":46},{"x":0.96,"y":-2.55,"v":46},{"x":1.91,"y":-2.55,"v":46},{"x":2.87,"y":-2.55,"v":50},
{"x":-2.87,"y":-2.87,"v":57},{"x":-1.91,"y":-2.87,"v":52},{"x":-0.96,"y":-2.87,"v":52},{"x":0,"y":-2.87,"v":52},{"x":0.96,"y":-2.87,"v":52},{"x":1.91,"y":-2.87,"v":52},{"x":2.87,"y":-2.87,"v":57},
{"x":-2.87,"y":-3.19,"v":66},{"x":-1.91,"y":-3.19,"v":60},{"x":-0.96,"y":-3.19,"v":60},{"x":0,"y":-3.19,"v":60},{"x":0.96,"y":-3.19,"v":60},{"x":1.91,"y":-3.19,"v":60},{"x":2.87,"y":-3.19,"v":66}],
"z2":[
{"x":-2.87,"y":3.19,"v":85},{"x":-1.91,"y":3.19,"v":62},{"x":-0.96,"y":3.19,"v":56},{"x":0,"y":3.19,"v":55},{"x":0.96,"y":3.19,"v":56},{"x":1.91,"y":3.19,"v":62},{"x":2.87,"y":3.19,"v":85},
{"x":-2.87,"y":2.87,"v":68},{"x":-1.91,"y":2.87,"v":54},{"x":-0.96,"y":2.87,"v":50},{"x":0,"y":2.87,"v":50},{"x":0.96,"y":2.87,"v":50},{"x":1.91,"y":2.87,"v":54},{"x":2.87,"y":2.87,"v":68},
{"x":-2.87,"y":2.55,"v":56},{"x":-1.91,"y":2.55,"v":47},{"x":-0.96,"y":2.55,"v":44},{"x":0,"y":2.55,"v":44},{"x":0.96,"y":2.55,"v":44},{"x":1.91,"y":2.55,"v":47},{"x":2.87,"y":2.55,"v":56},
{"x":-2.87,"y":2.23,"v":47},{"x":-1.91,"y":2.23,"v":40},{"x":-0.96,"y":2.23,"v":38},{"x":0,"y":2.23,"v":38},{"x":0.96,"y":2.23,"v":38},{"x":1.91,"y":2.23,"v":40},{"x":2.87,"y":2.23,"v":47},
{"x":-2.87,"y":1.91,"v":40},{"x":-1.91,"y":1.91,"v":34},{"x":-0.96,"y":1.91,"v":33},{"x":0,"y":1.91,"v":33},{"x":0.96,"y":1.91,"v":33},{"x":1.91,"y":1.91,"v":34},{"x":2.87,"y":1.91,"v":40},
{"x":-2.87,"y":1.6,"v":33},{"x":-1.91,"y":1.6,"v":29},{"x":-0.96,"y":1.6,"v":28},{"x":0,"y":1.6,"v":28},{"x":0.96,"y":1.6,"v":28},{"x":1.91,"y":1.6,"v":29},{"x":2.87,"y":1.6,"v":33},
{"x":-2.87,"y":1.28,"v":28},{"x":-1.91,"y":1.28,"v":24},{"x":-0.96,"y":1.28,"v":24},{"x":0,"y":1.28,"v":25},{"x":0.96,"y":1.28,"v":24},{"x":1.91,"y":1.28,"v":24},{"x":2.87,"y":1.28,"v":28},
{"x":-2.87,"y":0.96,"v":24},{"x":-1.91,"y":0.96,"v":19},{"x":-0.96,"y":0.96,"v":20},{"x":0,"y":0.96,"v":22},{"x":0.96,"y":0.96,"v":20},{"x":1.91,"y":0.96,"v":19},{"x":2.87,"y":0.96,"v":24},
{"x":-2.87,"y":0.64,"v":22},{"x":-1.91,"y":0.64,"v":15},{"x":-0.96,"y":0.64,"v":18},{"x":0,"y":0.64,"v":20},{"x":0.96,"y":0.64,"v":18},{"x":1.91,"y":0.64,"v":15},{"x":2.87,"y":0.64,"v":22},
{"x":-2.87,"y":0.32,"v":21},{"x":-1.91,"y":0.32,"v":12},{"x":-0.96,"y":0.32,"v":16},{"x":0,"y":0.32,"v":18},{"x":0.96,"y":0.32,"v":16},{"x":1.91,"y":0.32,"v":12},{"x":2.87,"y":0.32,"v":21},
{"x":-2.87,"y":0,"v":22},{"x":-1.91,"y":0,"v":10},{"x":-0.96,"y":0,"v":15},{"x":0,"y":0,"v":17},{"x":0.96,"y":0,"v":15},{"x":1.91,"y":0,"v":10},{"x":2.87,"y":0,"v":22},
{"x":-2.87,"y":-0.32,"v":22},{"x":-1.91,"y":-0.32,"v":11},{"x":-0.96,"y":-0.32,"v":15},{"x":0,"y":-0.32,"v":18},{"x":0.96,"y":-0.32,"v":15},{"x":1.91,"y":-0.32,"v":11},{"x":2.87,"y":-0.32,"v":22},
{"x":-2.87,"y":-0.64,"v":23},{"x":-1.91,"y":-0.64,"v":13},{"x":-0.96,"y":-0.64,"v":17},{"x":0,"y":-0.64,"v":20},{"x":0.96,"y":-0.64,"v":17},{"x":1.91,"y":-0.64,"v":13},{"x":2.87,"y":-0.64,"v":23},
{"x":-2.87,"y":-0.96,"v":25},{"x":-1.91,"y":-0.96,"v":17},{"x":-0.96,"y":-0.96,"v":21},{"x":0,"y":-0.96,"v":23},{"x":0.96,"y":-0.96,"v":21},{"x":1.91,"y":-0.96,"v":17},{"x":2.87,"y":-0.96,"v":25},
{"x":-2.87,"y":-1.28,"v":28},{"x":-1.91,"y":-1.28,"v":22},{"x":-0.96,"y":-1.28,"v":25},{"x":0,"y":-1.28,"v":26},{"x":0.96,"y":-1.28,"v":25},{"x":1.91,"y":-1.28,"v":22},{"x":2.87,"y":-1.28,"v":28},
{"x":-2.87,"y":-1.6,"v":33},{"x":-1.91,"y":-1.6,"v":27},{"x":-0.96,"y":-1.6,"v":29},{"x":0,"y":-1.6,"v":30},{"x":0.96,"y":-1.6,"v":29},{"x":1.91,"y":-1.6,"v":27},{"x":2.87,"y":-1.6,"v":33},
{"x":-2.87,"y":-1.91,"v":38},{"x":-1.91,"y":-1.91,"v":33},{"x":-0.96,"y":-1.91,"v":33},{"x":0,"y":-1.91,"v":33},{"x":0.96,"y":-1.91,"v":33},{"x":1.91,"y":-1.91,"v":33},{"x":2.87,"y":-1.91,"v":38},
{"x":-2.87,"y":-2.23,"v":45},{"x":-1.91,"y":-2.23,"v":39},{"x":-0.96,"y":-2.23,"v":38},{"x":0,"y":-2.23,"v":38},{"x":0.96,"y":-2.23,"v":38},{"x":1.91,"y":-2.23,"v":39},{"x":2.87,"y":-2.23,"v":45},
{"x":-2.87,"y":-2.55,"v":54},{"x":-1.91,"y":-2.55,"v":46},{"x":-0.96,"y":-2.55,"v":44},{"x":0,"y":-2.55,"v":44},{"x":0.96,"y":-2.55,"v":44},{"x":1.91,"y":-2.55,"v":46},{"x":2.87,"y":-2.55,"v":54},
{"x":-2.87,"y":-2.87,"v":66},{"x":-1.91,"y":-2.87,"v":54},{"x":-0.96,"y":-2.87,"v":50},{"x":0,"y":-2.87,"v":50},{"x":0.96,"y":-2.87,"v":50},{"x":1.91,"y":-2.87,"v":54},{"x":2.87,"y":-2.87,"v":66},
{"x":-2.87,"y":-3.19,"v":88},{"x":-1.91,"y":-3.19,"v":66},{"x":-0.96,"y":-3.19,"v":57},{"x":0,"y":-3.19,"v":56},{"x":0.96,"y":-3.19,"v":57},{"x":1.91,"y":-3.19,"v":66},{"x":2.87,"y":-3.19,"v":88}],
"u2":[
{"x":-2.87,"y":3.19,"v":230},{"x":-1.91,"y":3.19,"v":230},{"x":-0.96,"y":3.19,"v":230},{"x":0,"y":3.19,"v":230},{"x":0.96,"y":3.19,"v":230},{"x":1.91,"y":3.19,"v":230},{"x":2.87,"y":3.19,"v":230},
{"x":-2.87,"y":2.87,"v":178},{"x":-1.91,"y":2.87,"v":176},{"x":-0.96,"y":2.87,"v":175},{"x":0,"y":2.87,"v":175},{"x":0.96,"y":2.87,"v":175},{"x":1.91,"y":2.87,"v":176},{"x":2.87,"y":2.87,"v":178},
{"x":-2.87,"y":2.55,"v":120},{"x":-1.91,"y":2.55,"v":117},{"x":-0.96,"y":2.55,"v":115},{"x":0,"y":2.55,"v":115},{"x":0.96,"y":2.55,"v":115},{"x":1.91,"y":2.55,"v":117},{"x":2.87,"y":2.55,"v":120},
{"x":-2.87,"y":2.23,"v":80},{"x":-1.91,"y":2.23,"v":74},{"x":-0.96,"y":2.23,"v":72},{"x":0,"y":2.23,"v":72},{"x":0.96,"y":2.23,"v":72},{"x":1.91,"y":2.23,"v":74},{"x":2.87,"y":2.23,"v":80},
{"x":-2.87,"y":1.91,"v":60},{"x":-1.91,"y":1.91,"v":54},{"x":-0.96,"y":1.91,"v":52},{"x":0,"y":1.91,"v":52},{"x":0.96,"y":1.91,"v":52},{"x":1.91,"y":1.91,"v":54},{"x":2.87,"y":1.91,"v":60},
{"x":-2.87,"y":1.6,"v":46},{"x":-1.91,"y":1.6,"v":40},{"x":-0.96,"y":1.6,"v":38},{"x":0,"y":1.6,"v":38},{"x":0.96,"y":1.6,"v":38},{"x":1.91,"y":1.6,"v":40},{"x":2.87,"y":1.6,"v":46},
{"x":-2.87,"y":1.28,"v":36},{"x":-1.91,"y":1.28,"v":30},{"x":-0.96,"y":1.28,"v":28},{"x":0,"y":1.28,"v":28},{"x":0.96,"y":1.28,"v":28},{"x":1.91,"y":1.28,"v":30},{"x":2.87,"y":1.28,"v":36},
{"x":-2.87,"y":0.96,"v":28},{"x":-1.91,"y":0.96,"v":22},{"x":-0.96,"y":0.96,"v":20},{"x":0,"y":0.96,"v":20},{"x":0.96,"y":0.96,"v":20},{"x":1.91,"y":0.96,"v":22},{"x":2.87,"y":0.96,"v":28},
{"x":-2.87,"y":0.64,"v":20},{"x":-1.91,"y":0.64,"v":15},{"x":-0.96,"y":0.64,"v":15},{"x":0,"y":0.64,"v":15},{"x":0.96,"y":0.64,"v":15},{"x":1.91,"y":0.64,"v":15},{"x":2.87,"y":0.64,"v":20},
{"x":-2.87,"y":0.32,"v":16},{"x":-1.91,"y":0.32,"v":12},{"x":-0.96,"y":0.32,"v":12},{"x":0,"y":0.32,"v":12},{"x":0.96,"y":0.32,"v":12},{"x":1.91,"y":0.32,"v":12},{"x":2.87,"y":0.32,"v":16},
{"x":-2.87,"y":0,"v":15},{"x":-1.91,"y":0,"v":11},{"x":-0.96,"y":0,"v":10},{"x":0,"y":0,"v":10},{"x":0.96,"y":0,"v":10},{"x":1.91,"y":0,"v":11},{"x":2.87,"y":0,"v":15},
{"x":-2.87,"y":-0.32,"v":16},{"x":-1.91,"y":-0.32,"v":11},{"x":-0.96,"y":-0.32,"v":9},{"x":0,"y":-0.32,"v":9},{"x":0.96,"y":-0.32,"v":9},{"x":1.91,"y":-0.32,"v":11},{"x":2.87,"y":-0.32,"v":16},
{"x":-2.87,"y":-0.64,"v":17},{"x":-1.91,"y":-0.64,"v":11},{"x":-0.96,"y":-0.64,"v":9},{"x":0,"y":-0.64,"v":9},{"x":0.96,"y":-0.64,"v":9},{"x":1.91,"y":-0.64,"v":11},{"x":2.87,"y":-0.64,"v":17},
{"x":-2.87,"y":-0.96,"v":20},{"x":-1.91,"y":-0.96,"v":14},{"x":-0.96,"y":-0.96,"v":12},{"x":0,"y":-0.96,"v":12},{"x":0.96,"y":-0.96,"v":12},{"x":1.91,"y":-0.96,"v":14},{"x":2.87,"y":-0.96,"v":20},
{"x":-2.87,"y":-1.28,"v":28},{"x":-1.91,"y":-1.28,"v":22},{"x":-0.96,"y":-1.28,"v":20},{"x":0,"y":-1.28,"v":20},{"x":0.96,"y":-1.28,"v":20},{"x":1.91,"y":-1.28,"v":22},{"x":2.87,"y":-1.28,"v":28},
{"x":-2.87,"y":-1.6,"v":42},{"x":-1.91,"y":-1.6,"v":34},{"x":-0.96,"y":-1.6,"v":32},{"x":0,"y":-1.6,"v":32},{"x":0.96,"y":-1.6,"v":32},{"x":1.91,"y":-1.6,"v":34},{"x":2.87,"y":-1.6,"v":42},
{"x":-2.87,"y":-1.91,"v":54},{"x":-1.91,"y":-1.91,"v":46},{"x":-0.96,"y":-1.91,"v":44},{"x":0,"y":-1.91,"v":44},{"x":0.96,"y":-1.91,"v":44},{"x":1.91,"y":-1.91,"v":46},{"x":2.87,"y":-1.91,"v":54},
{"x":-2.87,"y":-2.23,"v":70},{"x":-1.91,"y":-2.23,"v":64},{"x":-0.96,"y":-2.23,"v":62},{"x":0,"y":-2.23,"v":62},{"x":0.96,"y":-2.23,"v":62},{"x":1.91,"y":-2.23,"v":64},{"x":2.87,"y":-2.23,"v":70},
{"x":-2.87,"y":-2.55,"v":100},{"x":-1.91,"y":-2.55,"v":100},{"x":-0.96,"y":-2.55,"v":100},{"x":0,"y":-2.55,"v":100},{"x":0.96,"y":-2.55,"v":100},{"x":1.91,"y":-2.55,"v":100},{"x":2.87,"y":-2.55,"v":100},
{"x":-2.87,"y":-2.87,"v":140},{"x":-1.91,"y":-2.87,"v":148},{"x":-0.96,"y":-2.87,"v":152},{"x":0,"y":-2.87,"v":155},{"x":0.96,"y":-2.87,"v":152},{"x":1.91,"y":-2.87,"v":148},{"x":2.87,"y":-2.87,"v":140},
{"x":-2.87,"y":-3.19,"v":195},{"x":-1.91,"y":-3.19,"v":210},{"x":-0.96,"y":-3.19,"v":220},{"x":0,"y":-3.19,"v":225},{"x":0.96,"y":-3.19,"v":220},{"x":1.91,"y":-3.19,"v":210},{"x":2.87,"y":-3.19,"v":195}]},
"columns":7,"align":"none","bounds":"flush","spacing":{"row":0,"column":0},"concat":[
{"width":209,"height":209,"title":{"text":"α","frame":"group","font":"Liberation Serif","fontStyle":"italic","fontSize":28,"fontWeight":"normal","offset":12},"encoding":{"x":{"field":"x","type":"quantitative","scale":{"domain":[-3.35,3.35],"nice":false},"axis":null},"y":{"field":"y","type":"quantitative","scale":{"domain":[-3.35,3.35],"nice":false},"axis":{"values":[-3,0,3],"format":"d","labelExpr":"replace(datum.label,'−','-')","title":"starting point","titleAngle":0,"titleAlign":"right","titleBaseline":"middle","titleX":-68,"titleY":92}}},"layer":[
{"data":{"name":"a1"},"mark":{"type":"rect","width":14.5,"height":14.5,"clip":true},"encoding":{"color":{"field":"v","type":"quantitative","legend":null,"scale":{"scheme":"plasma","domain":[0,200],"clamp":true}}}},
{"data":{"name":"dash"},"mark":{"type":"rule","color":"white","strokeWidth":2.5,"strokeDash":[10.5,4.3]},"encoding":{"x2":{"field":"x2"}}},
{"data":{"name":"box"},"mark":{"type":"rect","fillOpacity":0,"stroke":"black","strokeWidth":2},"encoding":{"x2":{"field":"x2"},"y2":{"field":"y2"}}}]},
{"width":48,"height":10,"data":{"name":"sp"},"mark":"text","encoding":{"text":{"field":"t"}}},
{"width":209,"height":209,"title":{"text":"U","frame":"group","font":"Liberation Serif","fontStyle":"italic","fontSize":28,"fontWeight":"normal","offset":12},"encoding":{"x":{"field":"x","type":"quantitative","scale":{"domain":[-3.35,3.35],"nice":false},"axis":null},"y":{"field":"y","type":"quantitative","scale":{"domain":[-3.35,3.35],"nice":false},"axis":null}},"layer":[
{"data":{"name":"u1"},"mark":{"type":"rect","width":14.5,"height":14.5,"clip":true},"encoding":{"color":{"field":"v","type":"quantitative","legend":null,"scale":{"scheme":"plasma","domain":[0,200],"clamp":true}}}},
{"data":{"name":"n"},"mark":{"type":"rect","width":5,"height":5,"color":"#b5b5ad"}},
{"data":{"name":"dash"},"mark":{"type":"rule","color":"white","strokeWidth":2.5,"strokeDash":[10.5,4.3]},"encoding":{"x2":{"field":"x2"}}},
{"data":{"name":"box"},"mark":{"type":"rect","fillOpacity":0,"stroke":"black","strokeWidth":2},"encoding":{"x2":{"field":"x2"},"y2":{"field":"y2"}}}]},
{"width":54,"height":10,"data":{"name":"sp"},"mark":"text","encoding":{"text":{"field":"t"}}},
{"width":209,"height":209,"title":{"text":"Z","frame":"group","font":"Liberation Serif","fontStyle":"italic","fontSize":28,"fontWeight":"normal","offset":12},"encoding":{"x":{"field":"x","type":"quantitative","scale":{"domain":[-3.35,3.35],"nice":false},"axis":null},"y":{"field":"y","type":"quantitative","scale":{"domain":[-3.35,3.35],"nice":false},"axis":null}},"layer":[
{"data":{"name":"z1"},"mark":{"type":"rect","width":14.5,"height":14.5,"clip":true},"encoding":{"color":{"field":"v","type":"quantitative","legend":null,"scale":{"scheme":"plasma","domain":[0,200],"clamp":true}}}},
{"data":{"name":"dash"},"mark":{"type":"rule","color":"white","strokeWidth":2.5,"strokeDash":[10.5,4.3]},"encoding":{"x2":{"field":"x2"}}},
{"data":{"name":"box"},"mark":{"type":"rect","fillOpacity":0,"stroke":"black","strokeWidth":2},"encoding":{"x2":{"field":"x2"},"y2":{"field":"y2"}}}]},
{"width":42,"height":10,"data":{"name":"sp"},"mark":"text","encoding":{"text":{"field":"t"}}},
{"width":13,"height":250,"encoding":{"y":{"field":"v","type":"quantitative","scale":{"domain":[96.1,210.5],"nice":false},"axis":{"orient":"right","values":[100,125,150,175,200],"title":"RMS spot radius [μm]","titleAngle":-90,"titleX":91,"titleY":242,"titleBaseline":"middle"}}},"layer":[
{"data":{"values":[{"v":97.5},{"v":102.5},{"v":107.5},{"v":112.5},{"v":117.5},{"v":122.5},{"v":127.5},{"v":132.5},{"v":137.5},{"v":142.5},{"v":147.5},{"v":152.5},{"v":157.5},{"v":162.5},{"v":167.5},{"v":172.5},{"v":177.5},{"v":182.5},{"v":187.5},{"v":192.5},{"v":197.5}]},"mark":{"type":"rect","height":11.6},"encoding":{"color":{"field":"v","type":"quantitative","legend":null,"scale":{"scheme":"plasma","domain":[0,200],"clamp":true}}}},
{"data":{"values":[{"x":0.5,"v":205.25}]},"mark":{"type":"point","filled":true,"shape":"M-0.56,1L0,-1L0.56,1Z","size":529,"color":"#f0f921","opacity":1},"encoding":{"x":{"field":"x","type":"quantitative","axis":null,"scale":{"domain":[0,1]}}}},
{"data":{"name":"outline"},"mark":{"type":"line","color":"black","strokeWidth":1.5},"encoding":{"x":{"field":"x","type":"quantitative","axis":null,"scale":{"domain":[0,1]}},"order":{"field":"o"}}}
]},
{"width":209,"height":209,"encoding":{"x":{"field":"x","type":"quantitative","scale":{"domain":[-3.35,3.35],"nice":false},"axis":{"values":[-3,0,3],"format":"d","labelExpr":"replace(datum.label,'−','-')","title":null}},"y":{"field":"y","type":"quantitative","scale":{"domain":[-3.35,3.35],"nice":false},"axis":{"values":[-3,0,3],"format":"d","labelExpr":"replace(datum.label,'−','-')","title":"re-optimized","titleAngle":0,"titleAlign":"right","titleBaseline":"middle","titleX":-68,"titleY":92}}},"layer":[
{"data":{"values":[{"x":-11.045,"x2":26.02,"y":-10.24,"y2":13.42}]},"mark":{"type":"rect","fillOpacity":0,"stroke":"#999999","strokeWidth":2},"encoding":{"x2":{"field":"x2"},"y2":{"field":"y2"}}},
{"data":{"name":"a2"},"mark":{"type":"rect","width":30.4,"height":10.4,"clip":true},"encoding":{"color":{"field":"v","type":"quantitative","legend":null,"scale":{"scheme":"plasma","domain":[0,200],"clamp":true}}}},
{"data":{"name":"dash"},"mark":{"type":"rule","color":"white","strokeWidth":2.5,"strokeDash":[10.5,4.3]},"encoding":{"x2":{"field":"x2"}}},
{"data":{"name":"box"},"mark":{"type":"rect","fillOpacity":0,"stroke":"black","strokeWidth":2},"encoding":{"x2":{"field":"x2"},"y2":{"field":"y2"}}}]},
{"width":48,"height":10,"data":{"name":"sp"},"mark":"text","encoding":{"text":{"field":"t"}}},
{"width":209,"height":209,"encoding":{"x":{"field":"x","type":"quantitative","scale":{"domain":[-3.35,3.35],"nice":false},"axis":{"values":[-3,0,3],"format":"d","labelExpr":"replace(datum.label,'−','-')","title":"Field angle [°]","titleX":115,"titleY":75,"titleBaseline":"middle"}},"y":{"field":"y","type":"quantitative","scale":{"domain":[-3.35,3.35],"nice":false},"axis":null}},"layer":[
{"data":{"name":"u2"},"mark":{"type":"rect","width":30.4,"height":10.4,"clip":true},"encoding":{"color":{"field":"v","type":"quantitative","legend":null,"scale":{"scheme":"plasma","domain":[0,200],"clamp":true}}}},
{"data":{"name":"dash"},"mark":{"type":"rule","color":"white","strokeWidth":2.5,"strokeDash":[10.5,4.3]},"encoding":{"x2":{"field":"x2"}}},
{"data":{"name":"box"},"mark":{"type":"rect","fillOpacity":0,"stroke":"black","strokeWidth":2},"encoding":{"x2":{"field":"x2"},"y2":{"field":"y2"}}}]},
{"width":54,"height":10,"data":{"name":"sp"},"mark":"text","encoding":{"text":{"field":"t"}}},
{"width":209,"height":209,"encoding":{"x":{"field":"x","type":"quantitative","scale":{"domain":[-3.35,3.35],"nice":false},"axis":{"values":[-3,0,3],"format":"d","labelExpr":"replace(datum.label,'−','-')","title":null}},"y":{"field":"y","type":"quantitative","scale":{"domain":[-3.35,3.35],"nice":false},"axis":null}},"layer":[
{"data":{"name":"z2"},"mark":{"type":"rect","width":30.4,"height":10.4,"clip":true},"encoding":{"color":{"field":"v","type":"quantitative","legend":null,"scale":{"scheme":"plasma","domain":[0,200],"clamp":true}}}},
{"data":{"name":"dash"},"mark":{"type":"rule","color":"white","strokeWidth":2.5,"strokeDash":[10.5,4.3]},"encoding":{"x2":{"field":"x2"}}},
{"data":{"name":"box"},"mark":{"type":"rect","fillOpacity":0,"stroke":"black","strokeWidth":2},"encoding":{"x2":{"field":"x2"},"y2":{"field":"y2"}}}]},
{"width":42,"height":10,"data":{"name":"sp"},"mark":"text","encoding":{"text":{"field":"t"}}},
{"width":13,"height":209,"encoding":{"y":{"field":"v","type":"quantitative","scale":{"domain":[0,95.65],"nice":false},"axis":{"orient":"right","values":[0,25,50,75],"title":null}}},"layer":[
{"data":{"values":[{"v":2.5},{"v":7.5},{"v":12.5},{"v":17.5},{"v":22.5},{"v":27.5},{"v":32.5},{"v":37.5},{"v":42.5},{"v":47.5},{"v":52.5},{"v":57.5},{"v":62.5},{"v":67.5},{"v":72.5},{"v":77.5},{"v":82.5},{"v":87.5},{"v":92.5}]},"mark":{"type":"rect","height":11.6},"encoding":{"color":{"field":"v","type":"quantitative","legend":null,"scale":{"scheme":"plasma","domain":[0,200],"clamp":true}}}},
{"data":{"values":[{"o":1,"x":0,"v":96.1},{"o":2,"x":0,"v":0},{"o":3,"x":1,"v":0},{"o":4,"x":1,"v":96.1}]},"mark":{"type":"line","color":"black","strokeWidth":1.5},"encoding":{"x":{"field":"x","type":"quantitative","axis":null,"scale":{"domain":[0,1]}},"order":{"field":"o"}}}
]},
{"width":209,"height":150,"encoding":{"y":{"field":"line","type":"nominal","axis":null,"scale":{"type":"point","domain":["a","b","c"],"range":[138,185],"padding":0}},"text":{"field":"text"}},"layer":[
{"data":{"values":[{"line":"a","text":"Figure 7."}]},"mark":{"type":"text","font":"Liberation Serif","fontWeight":"bold","fontSize":20,"align":"left","baseline":"alphabetic"},"encoding":{"x":{"value":-213}}},
{"data":{"values":[{"line":"a","text":"Rms spot radius before and after re-optimization evaluated on a larger field of view than specified (in dashed lines). Re-"}]},"mark":{"type":"text","font":"Liberation Serif","fontSize":20.3,"align":"left","baseline":"alphabetic"},"encoding":{"x":{"value":-135}}},
{"data":{"values":[{"line":"b","text":"optimization produces an asymmetric field performance due to the asymmetric field specification. The"}]},"mark":{"type":"text","font":"Liberation Serif","fontSize":20.55,"align":"left","baseline":"alphabetic"},"encoding":{"x":{"value":-213}}},
{"data":{"values":[{"line":"c","text":"to preserve contrast values above 200 μm are truncated."}]},"mark":{"type":"text","font":"Liberation Serif","fontSize":20.3,"align":"left","baseline":"alphabetic"},"encoding":{"x":{"value":-213}}},
{"data":{"values":[{"line":"b","text":"U"}]},"mark":{"type":"text","font":"Liberation Serif","fontStyle":"italic","fontSize":20.5,"align":"left","baseline":"alphabetic"},"encoding":{"x":{"value":635}}},
{"data":{"values":[{"line":"b","text":"system degrades faster and"}]},"mark":{"type":"text","font":"Liberation Serif","fontSize":20.5,"align":"left","baseline":"alphabetic"},"encoding":{"x":{"value":654}}}
]}
]}
